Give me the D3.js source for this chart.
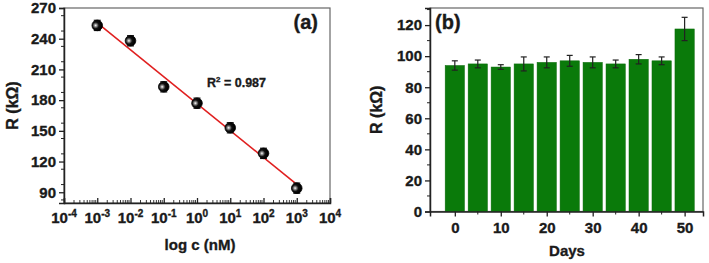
<!DOCTYPE html>
<html><head><meta charset="utf-8">
<script src="https://cdn.jsdelivr.net/npm/d3@7"></script>
<style>
body{margin:0;background:#fff;}
svg text{font-family:"Liberation Sans",Arial,sans-serif;font-weight:bold;fill:#1a1a1a;stroke:#1a1a1a;stroke-width:0.35px;}
</style></head>
<body><svg id="c" width="709" height="263"></svg>
<script>
// Panel (a) data
const concs = [1e-3, 1e-2, 1e-1, 1, 10, 100, 1000];
const resA = [253, 238, 193, 177, 153, 128, 94];
const errA = [5, 5, 5, 5, 5, 5, 5];
const fitLine = [[1e-3, 255.5], [1e3, 97.6]];
const xTicksA = [-4, -3, -2, -1, 0, 1, 2, 3, 4];
const yTicksA = [90, 120, 150, 180, 210, 240, 270];
// Panel (b) data
const days = [0, 5, 10, 15, 20, 25, 30, 35, 40, 45, 50];
const resB = [94, 95, 93, 95, 96, 97, 96, 95, 98, 97, 117.5];
const errB = [3, 2.5, 1.5, 4.5, 3.5, 3.5, 3.5, 2.5, 3, 2.5, 7.5];
const xTicksB = [0, 10, 20, 30, 40, 50];
const yTicksB = [0, 20, 40, 60, 80, 100, 120];

const svg = d3.select("#c");
const defs = svg.append("defs");
const grad = defs.append("radialGradient").attr("id","ball").attr("cx","35%").attr("cy","50%").attr("r","55%");
grad.append("stop").attr("offset","0%").attr("stop-color","#ffffff");
grad.append("stop").attr("offset","25%").attr("stop-color","#888");
grad.append("stop").attr("offset","55%").attr("stop-color","#111");
grad.append("stop").attr("offset","100%").attr("stop-color","#000");

// ---------- Panel (a) ----------
const A = {l:64, r:330, t:8, b:203};
const xA = d3.scaleLog().domain([1e-4, 1e4]).range([A.l, A.r]);
const yA = d3.scaleLinear().domain([79.5, 270]).range([A.b, A.t]);
const gA = svg.append("g");
gA.append("rect").attr("x",A.l).attr("y",A.t).attr("width",A.r-A.l).attr("height",A.b-A.t)
  .attr("fill","none").attr("stroke","#666").attr("stroke-width",1.2);
const yAxA = d3.axisLeft(yA).tickValues(yTicksA).tickSize(5).tickFormat(d3.format("d"));
const gyA = gA.append("g").attr("transform",`translate(${A.l},0)`).call(yAxA);
gyA.selectAll("text").style("font-size","15px").attr("x",-8);
gyA.select(".domain").attr("stroke","#222").attr("stroke-width",1.5);
gyA.selectAll(".tick line").attr("stroke","#222").attr("stroke-width",1.3);
const minorYA = d3.range(82.5, 270, 15).filter(v=>v%30!==0);
gA.selectAll(".myA").data(minorYA).join("line").attr("x1",A.l-3).attr("x2",A.l)
  .attr("y1",d=>yA(d)).attr("y2",d=>yA(d)).attr("stroke","#222").attr("stroke-width",1);
const xAxA = d3.axisBottom(xA).tickValues(xTicksA.map(e=>Math.pow(10,e))).tickSize(-5).tickFormat("");
const gxA = gA.append("g").attr("transform",`translate(0,${A.b})`).call(xAxA);
gxA.select(".domain").attr("stroke","#222").attr("stroke-width",1.5);
gxA.selectAll(".tick line").attr("stroke","#222").attr("stroke-width",1.3);
const minorXA = [];
xTicksA.slice(0,-1).forEach(e=>{for(let m=2;m<10;m++) minorXA.push(m*Math.pow(10,e));});
gA.selectAll(".mxA").data(minorXA).join("line").attr("x1",d=>xA(d)).attr("x2",d=>xA(d))
  .attr("y1",A.b).attr("y2",A.b-3).attr("stroke","#222").attr("stroke-width",0.9);
xTicksA.forEach(e=>{
  const t = gA.append("text").attr("x",xA(Math.pow(10,e))).attr("y",A.b+20).attr("text-anchor","middle").style("font-size","15px");
  t.append("tspan").text("10");
  t.append("tspan").attr("dy",-6).style("font-size","10px").text(e);
});
gA.append("line").attr("x1",xA(fitLine[0][0])).attr("y1",yA(fitLine[0][1]))
  .attr("x2",xA(fitLine[1][0])).attr("y2",yA(fitLine[1][1])).attr("stroke","#e02020").attr("stroke-width",1.6);
concs.forEach((c,i)=>{
  const x = xA(c), y1 = yA(resA[i]+errA[i]), y2 = yA(resA[i]-errA[i]);
  gA.append("line").attr("x1",x).attr("x2",x).attr("y1",y1).attr("y2",y2).attr("stroke","#222").attr("stroke-width",1.2);
  [y1,y2].forEach(y=>gA.append("line").attr("x1",x-3.5).attr("x2",x+3.5).attr("y1",y).attr("y2",y).attr("stroke","#222").attr("stroke-width",1.2));
});
gA.selectAll(".pt").data(concs).join("circle").attr("cx",d=>xA(d)).attr("cy",(d,i)=>yA(resA[i]))
  .attr("r",5.3).attr("fill","url(#ball)").attr("stroke","#000").attr("stroke-width",0.8);
const r2 = gA.append("text").attr("x",207).attr("y",87).style("font-size","12.5px");
r2.append("tspan").text("R");
r2.append("tspan").attr("dy",-5).style("font-size","8px").text("2");
r2.append("tspan").attr("dy",5).text(" = 0.987");
gA.append("text").attr("x",318).attr("y",29).attr("text-anchor","end").style("font-size","20px").text("(a)");
gA.append("text").attr("x",200).attr("y",250).attr("text-anchor","middle").style("font-size","15px").text("log c (nM)");
gA.append("text").attr("transform",`translate(18,${(A.t+A.b)/2}) rotate(-90)`).attr("text-anchor","middle").style("font-size","16px").text("R (kΩ)");

// ---------- Panel (b) ----------
const B = {l:430, r:703, t:8, b:211.5};
const xB = d3.scaleLinear().domain([-5.4, 54]).range([B.l, B.r]);
const yB = d3.scaleLinear().domain([0, 131]).range([B.b, B.t]);
const gB = svg.append("g");
gB.append("rect").attr("x",B.l).attr("y",B.t).attr("width",B.r-B.l).attr("height",B.b-B.t)
  .attr("fill","none").attr("stroke","#666").attr("stroke-width",1.2);
const bw = xB(4.2)-xB(0);
gB.selectAll(".bar").data(days).join("rect").attr("x",d=>xB(d)-bw/2).attr("width",bw)
  .attr("y",(d,i)=>yB(resB[i])).attr("height",(d,i)=>yB(0)-yB(resB[i])).attr("fill","#0a7a0a").attr("stroke","#0a6a0a").attr("stroke-width",0.5);
days.forEach((d,i)=>{
  const x = xB(d), y1 = yB(resB[i]+errB[i]), y2 = yB(resB[i]-errB[i]);
  gB.append("line").attr("x1",x).attr("x2",x).attr("y1",y1).attr("y2",y2).attr("stroke","#222").attr("stroke-width",1.2);
  [y1,y2].forEach(y=>gB.append("line").attr("x1",x-3).attr("x2",x+3).attr("y1",y).attr("y2",y).attr("stroke","#222").attr("stroke-width",1.2));
});
const yAxB = d3.axisLeft(yB).tickValues(yTicksB).tickSize(5).tickFormat(d3.format("d"));
const gyB = gB.append("g").attr("transform",`translate(${B.l},0)`).call(yAxB);
gyB.selectAll("text").style("font-size","15px").attr("x",-8);
gyB.select(".domain").attr("stroke","#222").attr("stroke-width",1.5);
gyB.selectAll(".tick line").attr("stroke","#222").attr("stroke-width",1.3);
gB.selectAll(".myB").data(d3.range(10,131,20)).join("line").attr("x1",B.l-3).attr("x2",B.l)
  .attr("y1",d=>yB(d)).attr("y2",d=>yB(d)).attr("stroke","#222").attr("stroke-width",1);
const xAxB = d3.axisBottom(xB).tickValues(xTicksB).tickSize(5).tickFormat(d3.format("d"));
const gxB = gB.append("g").attr("transform",`translate(0,${B.b})`).call(xAxB);
gxB.selectAll("text").style("font-size","15px").attr("y",11);
gxB.select(".domain").attr("stroke","#222").attr("stroke-width",1.5);
gxB.selectAll(".tick line").attr("stroke","#222").attr("stroke-width",1.3);
gB.selectAll(".mxB").data([5,15,25,35,45]).join("line").attr("x1",d=>xB(d)).attr("x2",d=>xB(d))
  .attr("y1",B.b).attr("y2",B.b+3).attr("stroke","#222").attr("stroke-width",1);
gB.append("text").attr("x",435).attr("y",29).style("font-size","20px").text("(b)");
gB.append("text").attr("x",567).attr("y",256).attr("text-anchor","middle").style("font-size","15px").text("Days");
gB.append("text").attr("transform",`translate(382,${(B.t+B.b)/2}) rotate(-90)`).attr("text-anchor","middle").style("font-size","16px").text("R (kΩ)");
</script></body></html>
